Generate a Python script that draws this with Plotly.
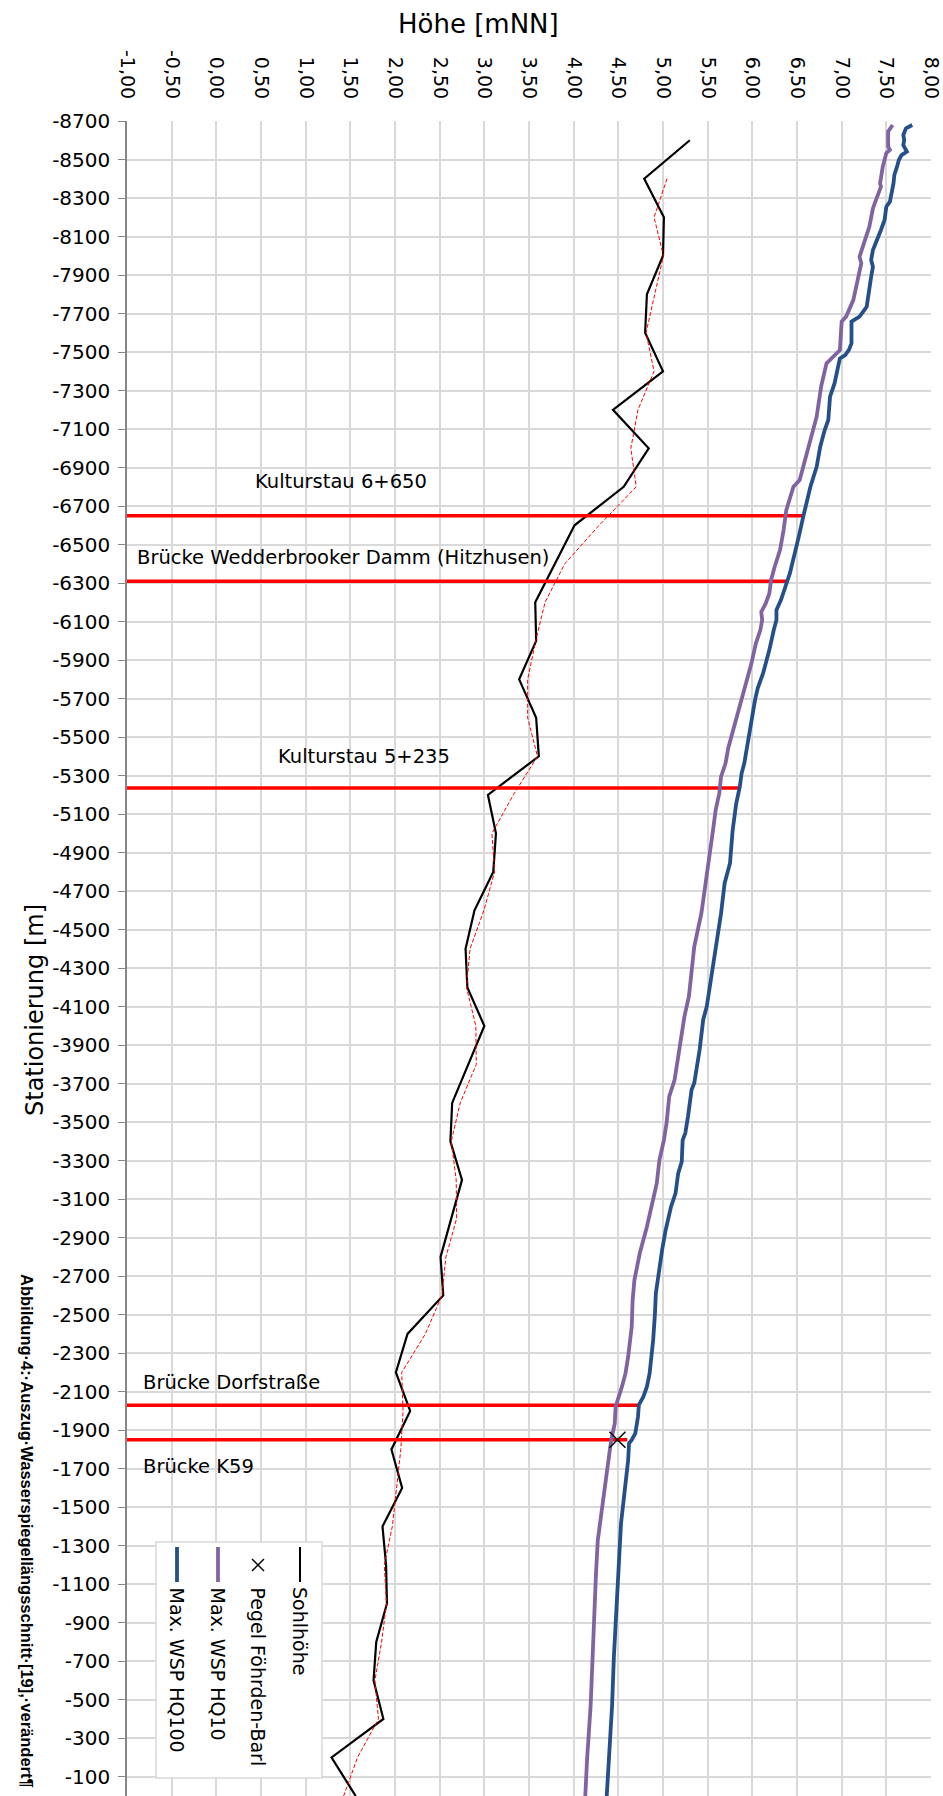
import plotly.graph_objects as go
import pandas as pd

# ---- data -------------------------------------------------------------
# Sohlhöhe (river bed) every 200 m
sohl_station = [-8600, -8400, -8200, -8000, -7800, -7600, -7400, -7200, -7000, -6800,
                -6600, -6400, -6200, -6000, -5800, -5600, -5400, -5200, -5000, -4800,
                -4600, -4400, -4200, -4000, -3800, -3600, -3400, -3200, -3000, -2800,
                -2600, -2400, -2200, -2000, -1800, -1600, -1400, -1200, -1000, -800,
                -600, -400, -200, 0]
sohl_hoehe = [5.30, 4.79, 5.01, 5.00, 4.82, 4.80, 5.00, 4.44, 4.84, 4.56,
              4.01, 3.79, 3.57, 3.58, 3.39, 3.58, 3.61, 3.04, 3.13, 3.10,
              2.89, 2.79, 2.81, 3.00, 2.82, 2.64, 2.62, 2.75, 2.63, 2.51,
              2.54, 2.14, 2.01, 2.17, 1.96, 2.08, 1.86, 1.90, 1.91, 1.79,
              1.76, 1.87, 1.29, 1.56]

# Max. WSP HQ100
hq100_station = [-8679, -8662, -8627, -8601, -8575, -8541, -8523, -8497, -8463, -8420,
                 -8376, -8350, -8281, -8255, -8186, -8134, -8082, -8030, -7978, -7943,
                 -7891, -7822, -7735, -7684, -7658, -7545, -7510, -7484, -7467, -7337,
                 -7268, -7147, -7095, -7008, -6904, -6800, -6697, -6645, -6541, -6437,
                 -6350, -6281, -6212, -6160, -6108, -6056, -6004, -5952, -5831, -5753,
                 -5692, -5606, -5502, -5364, -5312, -5243, -5156, -5018, -4845, -4741,
                 -4585, -4412, -4256, -4101, -4032, -3876, -3703, -3668, -3530, -3443,
                 -3407, -3295, -3234, -3130, -3061, -2940, -2836, -2715, -2611, -2507,
                 -2368, -2195, -2126, -2074, -2031, -1970, -1884, -1849, -1832, -1745,
                 -1589, -1416, -1243, -1087, -914, -723, -470, -190, 0]
hq100_hoehe = [7.79, 7.72, 7.69, 7.70, 7.69, 7.73, 7.67, 7.64, 7.62, 7.59,
               7.58, 7.57, 7.54, 7.50, 7.48, 7.44, 7.39, 7.35, 7.33, 7.35,
               7.33, 7.31, 7.28, 7.20, 7.11, 7.11, 7.08, 7.04, 6.98, 6.92,
               6.87, 6.85, 6.81, 6.76, 6.72, 6.65, 6.59, 6.57, 6.52, 6.47,
               6.42, 6.37, 6.32, 6.27, 6.27, 6.24, 6.22, 6.19, 6.12, 6.06,
               6.03, 6.00, 5.96, 5.91, 5.88, 5.86, 5.82, 5.78, 5.75, 5.69,
               5.65, 5.59, 5.54, 5.49, 5.45, 5.41, 5.35, 5.32, 5.28, 5.25,
               5.22, 5.21, 5.17, 5.14, 5.09, 5.03, 4.99, 4.95, 4.92, 4.91,
               4.89, 4.85, 4.82, 4.78, 4.73, 4.72, 4.69, 4.65, 4.62, 4.61,
               4.57, 4.53, 4.51, 4.49, 4.47, 4.45, 4.43, 4.39, 4.37]

# Max. WSP HQ10
hq10_station = [-8679, -8645, -8567, -8550, -8533, -8463, -8376, -8359, -8272, -8246,
                -8151, -8082, -7995, -7961, -7874, -7770, -7684, -7658, -7510, -7484,
                -7441, -7320, -7233, -7164, -7095, -7026, -6904, -6835, -6800, -6731,
                -6679, -6575, -6471, -6385, -6316, -6246, -6194, -6151, -6108, -6056,
                -5987, -5883, -5831, -5727, -5623, -5537, -5442, -5364, -5295, -5208,
                -5122, -5018, -4845, -4776, -4672, -4585, -4412, -4326, -4153, -4049,
                -3893, -3720, -3634, -3495, -3407, -3303, -3182, -3096, -3026, -2957,
                -2819, -2680, -2576, -2438, -2282, -2195, -2126, -2074, -2022, -1935,
                -1849, -1676, -1503, -1329, -1156, -1052, -879, -723, -470, -190, 0]
hq10_hoehe = [7.57, 7.52, 7.52, 7.54, 7.50, 7.46, 7.43, 7.44, 7.37, 7.35,
              7.31, 7.26, 7.20, 7.22, 7.18, 7.13, 7.05, 7.00, 6.98, 6.92,
              6.83, 6.77, 6.74, 6.72, 6.68, 6.64, 6.57, 6.53, 6.46, 6.41,
              6.38, 6.35, 6.31, 6.25, 6.21, 6.19, 6.15, 6.10, 6.11, 6.09,
              6.04, 5.99, 5.96, 5.89, 5.84, 5.78, 5.73, 5.70, 5.65, 5.63,
              5.59, 5.56, 5.51, 5.49, 5.46, 5.43, 5.35, 5.33, 5.29, 5.24,
              5.19, 5.13, 5.07, 5.04, 5.01, 4.96, 4.93, 4.89, 4.86, 4.82,
              4.74, 4.68, 4.66, 4.65, 4.61, 4.58, 4.54, 4.50, 4.47, 4.46,
              4.42, 4.37, 4.32, 4.27, 4.25, 4.24, 4.22, 4.21, 4.19, 4.15, 4.13]

# Pegel Föhrden-Barl
pegel_station = [-1850]
pegel_hoehe = [4.49]

# structures (station, water level at the structure)
bauwerk_name = ["Kulturstau 6+650", "Brücke Wedderbrooker Damm (Hitzhusen)",
                "Kulturstau 5+235", "Brücke Dorfstraße", "Brücke K59"]
bauwerk_station = [-6650, -6310, -5235, -2030, -1850]
bauwerk_hoehe = [6.58, 6.38, 5.86, 4.73, 4.60]

# axis ticks
x_tick_vals = [-1.0, -0.5, 0.0, 0.5, 1.0, 1.5, 2.0, 2.5, 3.0, 3.5, 4.0,
               4.5, 5.0, 5.5, 6.0, 6.5, 7.0, 7.5, 8.0]
x_tick_text = ["-1,00", "-0,50", "0,00", "0,50", "1,00", "1,50", "2,00", "2,50",
               "3,00", "3,50", "4,00", "4,50", "5,00", "5,50", "6,00", "6,50",
               "7,00", "7,50", "8,00"]
y_tick_vals = list(range(-8700, 0, 200))
y_tick_text = [str(v) for v in y_tick_vals]

# ---- layout geometry ---------------------------------------------------
W, H = 943, 1796
ML, MT, MR, MB = 127, 121, 12, 0
PW, PH = W - ML - MR, H - MT - MB

def px(x, y):
    """pixel position -> paper coordinates"""
    return (x - ML) / PW, (H - MB - y) / PH

FONT = "DejaVu Sans"
PURPLE = "#8064A2"
BLUE = "#254F8A"
RED = "#FF0000"
GRID = "#D9D9D9"

fig = go.Figure()

# river bed
fig.add_trace(go.Scatter(x=sohl_hoehe, y=sohl_station, mode="lines",
                         line=dict(color="black", width=2.2), name="Sohlhöhe"))

# moving average trendline (period 2) of the river bed
ma = pd.Series(sohl_hoehe).rolling(2).mean()
fig.add_trace(go.Scatter(x=ma[1:], y=sohl_station[1:], mode="lines",
                         line=dict(color=RED, width=1, dash="4px,2px"),
                         showlegend=False))

# structure lines from the left axis to the water level
for st, h in zip(bauwerk_station, bauwerk_hoehe):
    fig.add_trace(go.Scatter(x=[-1.0, h], y=[st, st], mode="lines",
                             line=dict(color=RED, width=3.5), showlegend=False))

fig.add_trace(go.Scatter(x=hq10_hoehe, y=hq10_station, mode="lines",
                         line=dict(color=PURPLE, width=3.8), name="Max. WSP HQ10"))
fig.add_trace(go.Scatter(x=hq100_hoehe, y=hq100_station, mode="lines",
                         line=dict(color=BLUE, width=3.8), name="Max. WSP HQ100"))
fig.add_trace(go.Scatter(x=pegel_hoehe, y=pegel_station, mode="markers",
                         marker=dict(symbol="x-thin", size=16,
                                     line=dict(color="black", width=1.5)),
                         name="Pegel Föhrden-Barl"))

annotations = []

# structure labels
label_pos = [  # (x, station, anchor)
    (1.40, -6830, "center"),
    (-0.907, -6435, "left"),
    (1.65, -5397, "center"),
    (-0.84, -2150, "left"),
    (-0.84, -1714, "left"),
]
for name, (lx, ly, anc) in zip(bauwerk_name, label_pos):
    annotations.append(dict(x=lx, y=ly, xref="x", yref="y", text=name,
                            showarrow=False, xanchor=anc, yanchor="middle",
                            font=dict(family=FONT, size=19.5, color="black")))

# axis titles
tx, ty = px(478, 24)
annotations.append(dict(x=tx, y=ty, xref="paper", yref="paper", text="Höhe [mNN]",
                        showarrow=False, xanchor="center", yanchor="middle",
                        font=dict(family=FONT, size=26, color="black")))
tx, ty = px(35, 1010)
annotations.append(dict(x=tx, y=ty, xref="paper", yref="paper", text="Stationierung [m]",
                        showarrow=False, xanchor="center", yanchor="middle",
                        textangle=-90,
                        font=dict(family=FONT, size=24, color="black")))

# figure caption
tx, ty = px(27, 1272)
annotations.append(dict(x=tx, y=ty, xref="paper", yref="paper",
                        text="<b>Abbildung·4:·Auszug·Wasserspiegellängsschnitt·[19],·verändert¶</b>",
                        showarrow=False, xanchor="center", yanchor="top",
                        textangle=90,
                        font=dict(family="Liberation Sans", size=16.5, color="black"),
                        ))

# ---- legend (rotated) ------------------------------------------------
shapes = []
x0, y0 = px(156, 1542)
x1, y1 = px(322, 1778)
shapes.append(dict(type="rect", xref="paper", yref="paper", x0=x0, y0=y0, x1=x1, y1=y1,
                   line=dict(color=GRID, width=1.5), fillcolor="white", layer="above"))

legend_items = [  # (center x px, label, kind, colour, width)
    (300, "Sohlhöhe", "line", "black", 2),
    (258, "Pegel Föhrden-Barl", "marker", "black", 1.5),
    (218, "Max. WSP HQ10", "line", PURPLE, 3.8),
    (177, "Max. WSP HQ100", "line", BLUE, 3.8),
]
for cx, label, kind, col, lw in legend_items:
    if kind == "line":
        a = px(cx, 1547)
        b = px(cx, 1582)
        shapes.append(dict(type="line", xref="paper", yref="paper",
                           x0=a[0], y0=a[1], x1=b[0], y1=b[1],
                           line=dict(color=col, width=lw), layer="above"))
    else:
        for dx in (-6, 6):
            a = px(cx - dx, 1559)
            b = px(cx + dx, 1571)
            shapes.append(dict(type="line", xref="paper", yref="paper",
                               x0=a[0], y0=a[1], x1=b[0], y1=b[1],
                               line=dict(color=col, width=lw), layer="above"))
    tx, ty = px(cx, 1585)
    annotations.append(dict(x=tx, y=ty, xref="paper", yref="paper", text=label,
                            showarrow=False, xanchor="center", yanchor="top",
                            textangle=90,
                            font=dict(family=FONT, size=19, color="black")))

fig.update_layout(
    width=W, height=H,
    margin=dict(l=ML, r=MR, t=MT, b=MB, pad=0),
    paper_bgcolor="white", plot_bgcolor="white",
    showlegend=False,
    shapes=shapes,
    annotations=annotations,
    xaxis=dict(range=[-1, 8], side="top", tickmode="array",
               tickvals=x_tick_vals, ticktext=x_tick_text, tickangle=90,
               ticks="", ticklabelstandoff=18,
               showgrid=True, gridcolor=GRID, gridwidth=1.5,
               showline=False, zeroline=False,
               tickfont=dict(family=FONT, size=19, color="black")),
    yaxis=dict(range=[0, -8700], tickmode="array",
               tickvals=y_tick_vals, ticktext=y_tick_text,
               ticks="outside", ticklen=7, tickcolor="#868686", tickwidth=1.3,
               ticklabelstandoff=4,
               showgrid=True, gridcolor=GRID, gridwidth=1.5,
               showline=True, linecolor="#868686", linewidth=1.5,
               zeroline=False,
               tickfont=dict(family=FONT, size=20, color="black")),
)

fig.write_html("out.html")
